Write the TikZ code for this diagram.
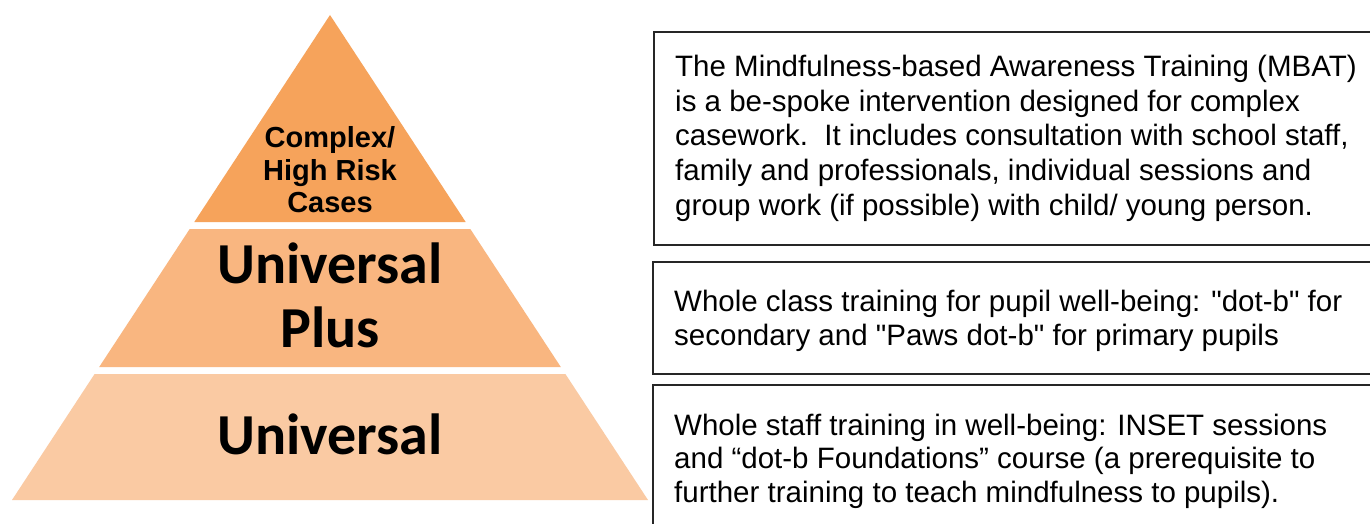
\documentclass[tikz,border=0pt]{standalone}
\usepackage{fontspec}
\setmainfont{Liberation Sans}
\newfontfamily\boxfont{Liberation Sans}
\newfontfamily\pyrfont{Liberation Sans Bold}
\newfontfamily\calfont{Carlito}
\definecolor{tierA}{HTML}{F6A35B}
\definecolor{tierB}{HTML}{F9B680}
\definecolor{tierC}{HTML}{FACAA3}
\definecolor{edge}{HTML}{262626}
\begin{document}
\begin{tikzpicture}[x=1pt,y=-1pt,
  boxline/.style={draw=edge,line width=1.8pt},
  boxtxt/.style={anchor=base west,inner sep=0pt,font=\boxfont\fontsize{29.5}{34}\selectfont,text=black},
  smalltier/.style={anchor=base,inner sep=0pt,font=\pyrfont\fontsize{29}{33}\selectfont,text=black},
  bigtier/.style={anchor=base,inner sep=0pt,font=\calfont\bfseries\fontsize{58}{63}\selectfont,text=black}]
\useasboundingbox (0,0) rectangle (1370,524);
\clip (0,0) rectangle (1370,524);
\fill[white] (0,0) rectangle (1370,524);
% pyramid tiers
\fill[tierA] (330,15) -- (465.7,222) -- (194.3,222) -- cycle;
\fill[tierB] (189.7,229) -- (470.3,229) -- (560.8,367) -- (99.2,367) -- cycle;
\fill[tierC] (94.6,374) -- (565.4,374) -- (648,500) -- (12,500) -- cycle;
% tier labels
\node[smalltier] (c1) at (330,147) {Complex/};
\node[smalltier] (c2) at (330,180) {High Risk};
\node[smalltier] (c3) at (330,212) {Cases};
\node[bigtier] (u1) at (330,283) {Universal};
\node[bigtier] (u2) at (330,347) {Plus};
\node[bigtier] (u3) at (330,454) {Universal};
% boxes
\draw[boxline] (1380,32) -- (654,32) -- (654,245) -- (1380,245);
\draw[boxline] (1380,262) -- (653,262) -- (653,374) -- (1380,374);
\draw[boxline] (1380,385) -- (653,385) -- (653,540);
% box texts
\node[boxtxt] (a1) at (675,77) {The Mindfulness-based Awareness Training (MBAT)};
\node[boxtxt] (a2) at (675,111.5) {is a be-spoke intervention designed for complex};
\node[boxtxt] (a3) at (675,146) {casework.\ \ It includes consultation with school staff,};
\node[boxtxt] (a4) at (675,180.5) {family and professionals, individual sessions and};
\node[boxtxt] (a5) at (675,215) {group work (if possible) with child/ young person.};
\node[boxtxt] (b1) at (674,311) {Whole class training for pupil well-being: "dot-b" for};
\node[boxtxt] (b2) at (674,345) {secondary and "Paws dot-b" for primary pupils};
\node[boxtxt] (d1) at (674,435) {Whole staff training in well-being: INSET sessions};
\node[boxtxt] (d2) at (674,468) {and “dot-b Foundations” course (a prerequisite to};
\node[boxtxt] (d3) at (674,502) {further training to teach mindfulness to pupils).};
\end{tikzpicture}
\end{document}
